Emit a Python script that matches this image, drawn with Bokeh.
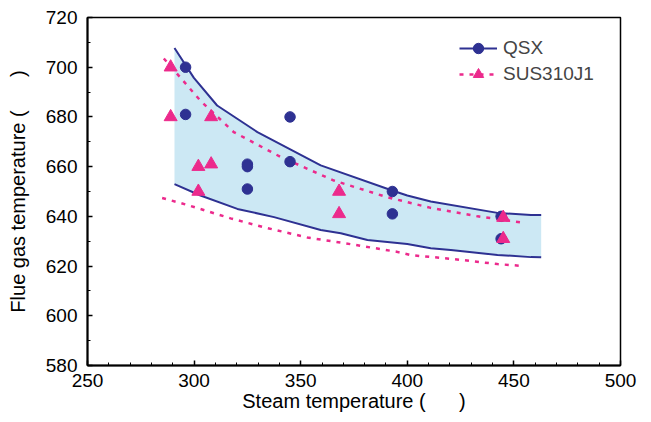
from bokeh.plotting import figure
from bokeh.models import SingleIntervalTicker, Range1d, Legend, LegendItem
from bokeh.embed import file_html
from bokeh.resources import INLINE

# ---- data ----
qsx_x = [296, 296, 345, 325, 325, 345, 325, 393, 393, 444, 444]
qsx_y = [700, 681, 680, 661, 660, 662, 651, 650, 641, 640, 631]

sus_x = [289, 289, 308, 302, 308, 302, 368, 368, 445, 445]
sus_y = [700, 680, 680, 660, 661, 650, 650, 641, 639.5, 631]

qsx_up_x = [290.8, 299.9, 310.8, 329.7, 359.4, 392.9, 400, 411, 442.3, 458, 462.8]
qsx_up_y = [707.7, 695.7, 684.6, 673.9, 660.5, 650.4, 648.4, 646, 641.4, 640.5, 640.5]
qsx_lo_x = [290.8, 303, 320.3, 337.5, 359.4, 368.8, 381.3, 400, 411, 420.4, 442.3, 458, 462.8]
qsx_lo_y = [653, 648.4, 643, 639.7, 634.5, 633.2, 630.5, 628.9, 627.2, 626.5, 624.5, 623.6, 623.5]

sus_up_x = [285.8, 303, 318.6, 340.6, 365.6, 390.6, 411, 433, 453.3]
sus_up_y = [703.5, 686.5, 673.9, 663.9, 654.4, 647.7, 643.4, 640, 637.6]
sus_lo_x = [285, 296.8, 317.1, 332.8, 353.1, 373.5, 395.4, 401.6, 422, 442.3, 453.3]
sus_lo_y = [647.4, 644.6, 639.2, 635.6, 631.5, 628.8, 625.7, 624.4, 622.8, 620.8, 620.1]

x_range = (250, 500)
y_range = (580, 720)
series_labels = ["QSX", "SUS310J1"]
x_title = "Steam temperature (" + "\u00a0" * 6 + ")"
y_title = "Flue gas temperature (" + "\u00a0" * 6 + ")"

NAVY = "#2E3192"
PINK = "#EC2A8C"
FILL = "#CCE8F4"
FONT = "Liberation Sans"

p = figure(width=643, height=414, output_backend="svg", toolbar_location=None,
           x_range=Range1d(*x_range), y_range=Range1d(*y_range),
           min_border_left=87, min_border_right=23, min_border_top=17, min_border_bottom=49)
p.xgrid.visible = False
p.ygrid.visible = False
p.outline_line_color = "black"
p.outline_line_width = 1.5
p.background_fill_color = "white"
p.border_fill_color = "white"

# band between QSX envelope curves
band_x = qsx_up_x + qsx_lo_x[::-1]
band_y = qsx_up_y + qsx_lo_y[::-1]
p.patch(band_x, band_y, fill_color=FILL, line_color=None)

r_qup = p.line(qsx_up_x, qsx_up_y, line_color=NAVY, line_width=2)
p.line(qsx_lo_x, qsx_lo_y, line_color=NAVY, line_width=2)
r_sup = p.line(sus_up_x, sus_up_y, line_color=PINK, line_width=2.5, line_dash="4 6")
p.line(sus_lo_x, sus_lo_y, line_color=PINK, line_width=2.5, line_dash="4 6")

r_qs = p.scatter(qsx_x, qsx_y, marker="circle", size=10.5, fill_color=NAVY, line_color=NAVY)
r_ss = p.scatter(sus_x, sus_y, marker="triangle", size=13, fill_color=PINK, line_color=PINK)

legend = Legend(items=[LegendItem(label=series_labels[0], renderers=[r_qup, r_qs]),
                       LegendItem(label=series_labels[1], renderers=[r_sup, r_ss])],
                location=(372, 278), border_line_color=None, background_fill_alpha=0,
                padding=0, margin=0, spacing=0, glyph_width=38, glyph_height=26,
                label_height=26, label_standoff=6, label_text_font=FONT,
                label_text_font_size="19px")
p.add_layout(legend)

for ax in (p.xaxis[0], p.yaxis[0]):
    ax.axis_line_width = 2
    ax.axis_line_color = "black"
    ax.major_tick_in = 5
    ax.major_tick_out = 0
    ax.minor_tick_in = 3
    ax.minor_tick_out = 0
    ax.major_tick_line_width = 1.5
    ax.minor_tick_line_width = 1
    ax.major_label_text_font = FONT
    ax.major_label_text_font_size = "19px"
    ax.major_label_text_color = "black"
    ax.axis_label_text_font = FONT
    ax.axis_label_text_font_size = "20px"
    ax.axis_label_text_font_style = "normal"
    ax.axis_label_text_color = "black"

p.xaxis.ticker = SingleIntervalTicker(interval=50, num_minor_ticks=5)
p.yaxis.ticker = SingleIntervalTicker(interval=20, num_minor_ticks=2)
p.xaxis.axis_label = x_title
p.yaxis.axis_label = y_title
p.xaxis.major_label_standoff = 8
p.xaxis.axis_label_standoff = 0
p.yaxis.major_label_standoff = 10
p.yaxis.axis_label_standoff = 14

open("out.html", "w").write(file_html(p, INLINE))
